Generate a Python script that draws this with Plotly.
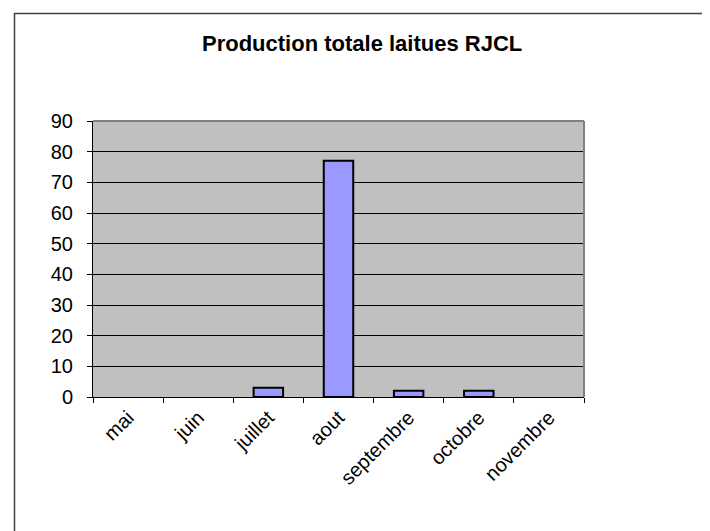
import plotly.graph_objects as go

months = ["mai", "juin", "juillet", "aout", "septembre", "octobre", "novembre"]
production = [None, None, 3, 77, 2, 2, None]
y_ticks = [0, 10, 20, 30, 40, 50, 60, 70, 80, 90]
title_text = "Production totale laitues RJCL"

W, H = 710, 531
OFF = 8  # page body margin offset
L, R, T, B = 93, 584, 121, 397
pw, ph = R - L, B - T

font_family = "Arial, Liberation Sans, sans-serif"

fig = go.Figure()
fig.add_trace(go.Bar(
    x=months, y=production,
    marker=dict(color="#9999FF", line=dict(color="black", width=2)),
    showlegend=False,
))

def px_x(x):
    return (x - L) / pw

def px_y(y):
    return (B - y) / ph

fig.update_layout(
    width=W, height=H,
    margin=dict(l=L - OFF, r=W - R + OFF, t=T - OFF, b=H - B + OFF, pad=0),
    paper_bgcolor="white",
    plot_bgcolor="#C0C0C0",
    bargap=0.58,
    font=dict(family=font_family, size=20, color="black"),
    xaxis=dict(
        type="category",
        tickangle=-45,
        ticks="outside", ticklen=5, tickcolor="black", tickwidth=1,
        tickson="boundaries",
        showline=True, linecolor="black", linewidth=1,
        showgrid=False, zeroline=False,
        tickfont=dict(size=20, family=font_family, color="black"),
        fixedrange=True,
    ),
    yaxis=dict(
        range=[0, 90],
        tickvals=y_ticks,
        ticks="outside", ticklen=5, tickcolor="black", tickwidth=1,
        ticklabelstandoff=10,
        showline=True, linecolor="black", linewidth=1,
        showgrid=True, gridcolor="black", gridwidth=1,
        zeroline=False,
        tickfont=dict(size=20, family=font_family, color="black"),
        fixedrange=True,
    ),
    annotations=[dict(
        text="<b>" + title_text + "</b>",
        xref="paper", yref="paper",
        x=px_x(362), y=px_y(43),
        xanchor="center", yanchor="middle",
        showarrow=False,
        font=dict(size=22, family=font_family, color="black"),
    )],
    shapes=[
        dict(type="rect", xref="paper", yref="paper",
             x0=px_x(14.5), y0=px_y(600), x1=px_x(800), y1=px_y(13.5),
             line=dict(color="#404040", width=1.5), layer="above"),
        dict(type="line", xref="paper", yref="paper",
             x0=0, y0=1, x1=1, y1=1,
             line=dict(color="#808080", width=2), layer="above"),
        dict(type="line", xref="paper", yref="paper",
             x0=1, y0=0, x1=1, y1=1,
             line=dict(color="#808080", width=2), layer="above"),
    ],
)

fig.write_html("out.html")
